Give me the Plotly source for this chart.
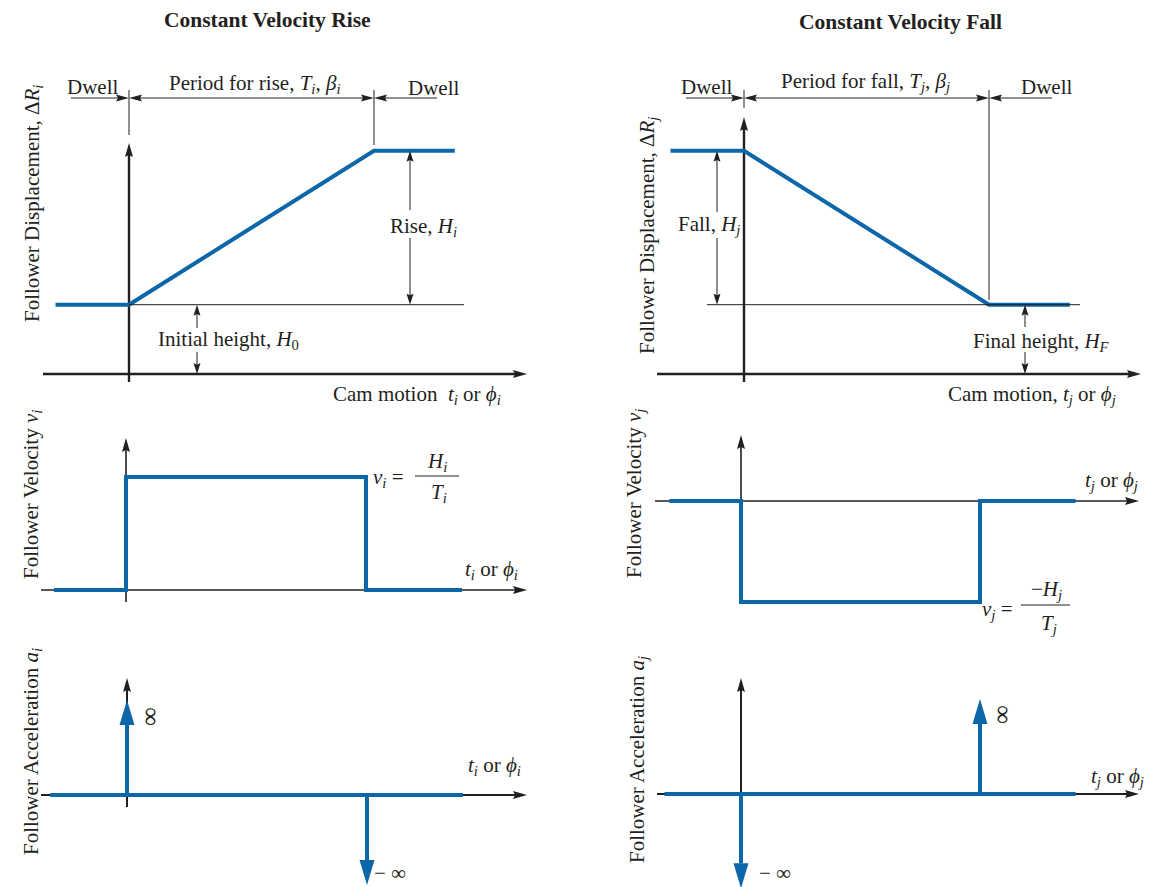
import math
import plotly.graph_objects as go

W, H = 1157, 887
BLUE = "#0b67a8"
INK = "#231f20"
SERIF = "Liberation Serif, Times New Roman, serif"

# cam motion, in units of the rise / fall period (0 = start, 1 = end)
disp_t = [-0.3, 0, 1, 1.33]
vel_t = [-0.3, 0, 0, 1, 1, 1.4]
acc_t = [-0.32, 1.4]

# follower displacement, in units of the rise H_i (fall H_j)
rise_disp = [0.45, 0.45, 1.45, 1.45]
fall_disp = [1.45, 1.45, 0.45, 0.45]
H0 = 0.45   # initial height
HF = 0.45   # final height

# follower velocity, in units of H/T
rise_vel = [0, 0, 1, 1, 0, 0]
fall_vel = [0, 0, -1, -1, 0, 0]

# follower acceleration: zero except for the two impulses (drawn length)
acc_zero = [0, 0]
rise_impulse_t = [0, 1]
rise_impulse = [1.0, -0.93]
fall_impulse_t = [0, 1]
fall_impulse = [-0.99, 1.0]

# where each panel sits on the page: pixel of t=0, t=1, value 0 and px per unit
panels = {
    "rise_disp": dict(k=1, t0=129, t1=374, v0=374, sy=154),
    "rise_vel": dict(k=2, t0=126, t1=366, v0=590, sy=113),
    "rise_acc": dict(k=3, t0=127, t1=367, v0=795, sy=70),
    "fall_disp": dict(k=4, t0=744, t1=989, v0=374, sy=154),
    "fall_vel": dict(k=5, t0=741, t1=980, v0=501, sy=101),
    "fall_acc": dict(k=6, t0=741, t1=980, v0=794, sy=70),
}


def PX(p, t):
    g = panels[p]
    return g["t0"] + (g["t1"] - g["t0"]) * t


def PY(p, v):
    g = panels[p]
    return g["v0"] - g["sy"] * v


def suffix(k):
    return "" if k == 1 else str(k)


shapes = []
annotations = []


def line(x1, y1, x2, y2, w=1.0, color=INK, layer="above"):
    shapes.append(dict(type="line", xref="paper", yref="paper",
                       x0=x1 / W, y0=1 - y1 / H, x1=x2 / W, y1=1 - y2 / H,
                       line=dict(color=color, width=w), layer=layer))


def head(xt, yt, xf, yf, L, wd, color=INK, layer="above", notch=0.15):
    # filled arrow head with its tip at (xt, yt), coming from (xf, yf)
    dx, dy = xt - xf, yt - yf
    n = math.hypot(dx, dy)
    ux, uy = dx / n, dy / n
    bx, by = xt - ux * L, yt - uy * L
    nx, ny = -uy, ux
    pts = [(xt, yt),
           (bx + nx * wd / 2, by + ny * wd / 2),
           (xt - ux * L * (1 - notch), yt - uy * L * (1 - notch)),
           (bx - nx * wd / 2, by - ny * wd / 2)]
    path = "M " + " L ".join(f"{x / W:.5f},{1 - y / H:.5f}" for x, y in pts) + " Z"
    shapes.append(dict(type="path", xref="paper", yref="paper", path=path,
                       fillcolor=color, line=dict(width=0), layer=layer))


def arrow(x1, y1, x2, y2, w=1.0, L=12, wd=7, color=INK, layer="above", notch=0.15):
    dx, dy = x2 - x1, y2 - y1
    n = math.hypot(dx, dy)
    ux, uy = dx / n, dy / n
    line(x1, y1, x2 - ux * L * 0.6, y2 - uy * L * 0.6, w, color, layer)
    head(x2, y2, x1, y1, L, wd, color, layer, notch)


def label(x, y, text, size=21, angle=0, xanchor="center"):
    annotations.append(dict(xref="paper", yref="paper", x=x / W, y=1 - y / H,
                            text=text, showarrow=False, textangle=angle,
                            xanchor=xanchor, yanchor="middle",
                            font=dict(family=SERIF, size=size, color=INK)))


fig = go.Figure()

# blue motion curves
curves = [("rise_disp", disp_t, rise_disp), ("fall_disp", disp_t, fall_disp),
          ("rise_vel", vel_t, rise_vel), ("fall_vel", vel_t, fall_vel),
          ("rise_acc", acc_t, acc_zero), ("fall_acc", acc_t, acc_zero)]
for p, t, v in curves:
    k = panels[p]["k"]
    fig.add_trace(go.Scatter(x=t, y=v, mode="lines", line=dict(color=BLUE, width=4),
                             xaxis="x" + suffix(k), yaxis="y" + suffix(k),
                             hoverinfo="skip", showlegend=False))

# acceleration impulses
for p, ts, vs in [("rise_acc", rise_impulse_t, rise_impulse),
                  ("fall_acc", fall_impulse_t, fall_impulse)]:
    k = panels[p]["k"]
    for t, v in zip(ts, vs):
        fig.add_trace(go.Scatter(x=[t, t], y=[0, v], mode="lines",
                                 line=dict(color=BLUE, width=4),
                                 xaxis="x" + suffix(k), yaxis="y" + suffix(k),
                                 hoverinfo="skip", showlegend=False))
        tip = PY(p, v) - math.copysign(25, v)
        head(PX(p, t), tip, PX(p, t), PY(p, 0), 25, 15, BLUE, notch=0)

# ---- black axes (drawn under the curves)
def axes(p, left, right, bottom, top, w):
    x0, y0 = PX(p, 0), PY(p, 0)
    arrow(left, y0, right, y0, w, 14, 8, layer="below")
    arrow(x0, bottom, x0, top, w, 14, 8, layer="below")


axes("rise_disp", 43, 527, 382, 143, 2.4)
axes("fall_disp", 657, 1141, 382, 117, 2.4)
axes("rise_vel", 41, 527, 602, 438, 1.6)
axes("fall_vel", 655, 1139, 504, 435, 1.6)
axes("rise_acc", 41, 527, 807, 678, 2.0)
axes("fall_acc", 657, 1139, PY("fall_acc", 0), 678, 2.0)

# ---- displacement dimensioning
yd = 98
for p, tick_tops in [("rise_disp", (135, 145)), ("fall_disp", (108, 300))]:
    xa, xb = PX(p, 0), PX(p, 1)
    line(xa, 90, xa, tick_tops[0], 1)
    line(xb, 90, xb, tick_tops[1], 1)
    mid = (xa + xb) / 2
    arrow(mid, yd, xa, yd, 1, 13, 7)
    arrow(mid, yd, xb, yd, 1, 13, 7)
    arrow(xa - 58, yd, xa, yd, 1, 13, 7)
    arrow(xb + 63, yd, xb, yd, 1, 13, 7)

# reference lines at the dwell heights
line(PX("rise_disp", 0), PY("rise_disp", H0), 464, PY("rise_disp", H0), 1)
line(707, PY("fall_disp", HF), 1080, PY("fall_disp", HF), 1)


def height_arrow(p, x, v_lo, v_hi, gap_top, gap_bot):
    ylo, yhi = PY(p, v_lo), PY(p, v_hi)
    arrow(x, gap_top, x, yhi, 1, 11, 7)
    arrow(x, gap_bot, x, ylo, 1, 11, 7)


height_arrow("rise_disp", 410, H0, rise_disp[-1], 210, 238)
height_arrow("rise_disp", 197, 0, H0, 328, 352)
height_arrow("fall_disp", 717, HF, fall_disp[0], 212, 238)
height_arrow("fall_disp", 1025, 0, HF, 327, 352)

# fraction bars for the velocity formulas
line(415, 476, 459, 476, 1.2)
line(1021, 605, 1070, 605, 1.2)

# ---- text
label(267, 20, "<b>Constant Velocity Rise</b>", 21.5)
label(900, 22, "<b>Constant Velocity Fall</b>", 21.5)

label(92, 87, "Dwell")
label(254, 84, "Period for rise, <i>T<sub>i</sub></i>, <i>β<sub>i</sub></i>")
label(433, 88, "Dwell")
label(706, 87, "Dwell")
label(865, 82, "Period for fall, <i>T<sub>j</sub></i>, <i>β<sub>j</sub></i>")
label(1046, 87, "Dwell")

label(423, 227, "Rise, <i>H<sub>i</sub></i>")
label(228, 340, "Initial height, <i>H</i><sub>0</sub>")
label(417, 395, "Cam motion\u00a0\u00a0<i>t<sub>i</sub></i> or <i>ϕ<sub>i</sub></i>")
label(709, 225, "Fall, <i>H<sub>j</sub></i>")
label(1041, 342, "Final height, <i>H<sub>F</sub></i>")
label(1032, 395, "Cam motion, <i>t<sub>j</sub></i> or <i>ϕ<sub>j</sub></i>")

label(388, 478, "<i>v<sub>i</sub></i> =")
label(437, 462, "<i>H<sub>i</sub></i>")
label(439, 493, "<i>T<sub>i</sub></i>")
label(491, 570, "<i>t<sub>i</sub></i> or <i>ϕ<sub>i</sub></i>")
label(997, 610, "<i>v<sub>j</sub></i> =")
label(1046, 590, "\u2212<i>H<sub>j</sub></i>")
label(1049, 624, "<i>T<sub>j</sub></i>")
label(1111, 481, "<i>t<sub>j</sub></i> or <i>ϕ<sub>j</sub></i>")

label(149, 717, "∞", 26, angle=-90)
label(390, 873, "\u2212 ∞")
label(494, 766, "<i>t<sub>i</sub></i> or <i>ϕ<sub>i</sub></i>")
label(1001, 715, "∞", 26, angle=-90)
label(775, 873, "\u2212 ∞")
label(1117, 777, "<i>t<sub>j</sub></i> or <i>ϕ<sub>j</sub></i>")

label(33, 204, "Follower Displacement, Δ<i>R<sub>i</sub></i>", 21, -90)
label(32, 495, "Follower Velocity <i>v<sub>i</sub></i>", 21, -90)
label(32, 752, "Follower Acceleration <i>a<sub>i</sub></i>", 21, -90)
label(648, 236, "Follower Displacement, Δ<i>R<sub>j</sub></i>", 21, -90)
label(635, 494, "Follower Velocity <i>v<sub>j</sub></i>", 21, -90)
label(638, 760, "Follower Acceleration <i>a<sub>j</sub></i>", 21, -90)

# ---- invisible axes, one pair per panel, mapped onto the page
layout = dict(width=W, height=H, margin=dict(l=0, r=0, t=0, b=0),
              paper_bgcolor="white", plot_bgcolor="rgba(0,0,0,0)",
              showlegend=False, shapes=shapes, annotations=annotations)
for p, g in panels.items():
    k = g["k"]
    sx = g["t1"] - g["t0"]
    layout["xaxis" + suffix(k)] = dict(domain=[0, 1], range=[-g["t0"] / sx, (W - g["t0"]) / sx],
                                       visible=False, anchor="y" + suffix(k))
    layout["yaxis" + suffix(k)] = dict(domain=[0, 1], range=[(g["v0"] - H) / g["sy"], g["v0"] / g["sy"]],
                                       visible=False, anchor="x" + suffix(k))

fig.update_layout(**layout)
# the page's default body margin would push the drawing 8px off the corner
fig.write_html("out.html", config={"displayModeBar": False},
               post_script="document.body.style.margin='0';")
